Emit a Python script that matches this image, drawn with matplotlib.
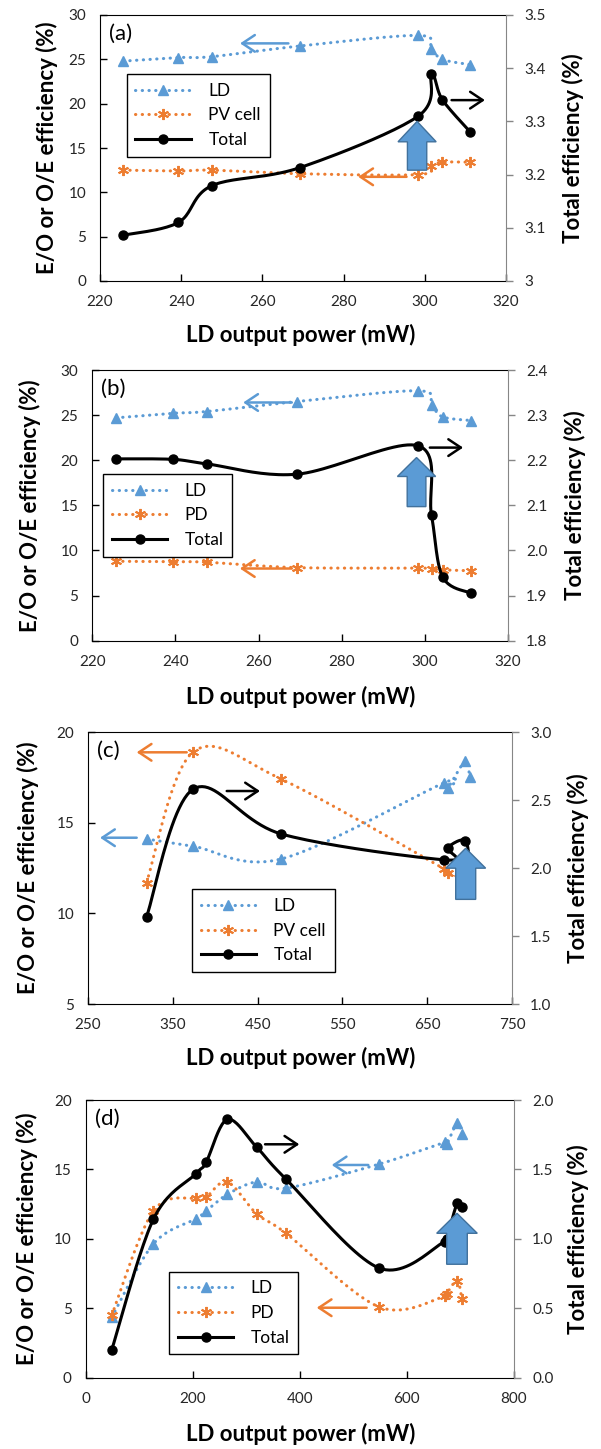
import numpy as np
import matplotlib
matplotlib.use("Agg")
import matplotlib.pyplot as plt
from matplotlib.patches import FancyArrow
from matplotlib.lines import Line2D
from matplotlib.ticker import FuncFormatter

plt.rcParams['font.family'] = ['Lato', 'DejaVu Sans']

# ---- data ----
# (a) and (b): same LD operating points
power_ab = [225.7, 239.3, 247.5, 269.2, 298.4, 301.6, 304.3, 311.2]
ld_a = [24.8, 25.2, 25.3, 26.5, 27.7, 26.2, 25.0, 24.4]
pv_a = [12.5, 12.4, 12.5, 12.1, 12.0, 13.0, 13.4, 13.4]
total_a = [3.086, 3.110, 3.179, 3.213, 3.310, 3.389, 3.341, 3.280]

ld_b = [24.7, 25.2, 25.4, 26.5, 27.7, 26.1, 24.8, 24.4]
pd_b = [8.8, 8.75, 8.7, 8.1, 8.05, 7.95, 7.85, 7.75]
total_b = [2.203, 2.202, 2.192, 2.169, 2.232, 2.078, 1.941, 1.905]

power_c = [319, 374, 478, 670, 674, 695, 700]
ld_c = [14.1, 13.7, 13.0, 17.2, 16.9, 18.4, 17.5]
pv_c = [11.7, 18.9, 17.4, 12.45, 12.2, 12.0, 12.3]
total_c = [1.64, 2.58, 2.25, 2.06, 2.15, 2.20, 2.0]

power_d = [48.6, 126.3, 206.0, 224.7, 264.5, 319.4, 374.1, 547.8, 670.5, 674.2, 694.1, 702.3]
ld_d = [4.35, 9.63, 11.45, 12.0, 13.2, 14.1, 13.65, 15.38, 16.95, 16.8, 18.35, 17.55]
pd_d = [4.5, 12.0, 12.95, 13.0, 14.1, 11.8, 10.4, 5.1, 5.85, 6.05, 7.0, 5.7]
total_d = [0.20, 1.14, 1.47, 1.55, 1.86, 1.66, 1.43, 0.79, 0.98, 1.0, 1.26, 1.23]

BLUE = '#5B9BD5'
ORANGE = '#ED7D31'
GREY = '#868686'
W, H = 601, 1449

fig = plt.figure(figsize=(W / 100, H / 100), dpi=100)


def smooth(x, y, n=24):
    # excel style smoothed line (catmull-rom bezier)
    p = np.column_stack([x, y]).astype(float)
    q = np.vstack([p[0], p, p[-1]])
    t = np.linspace(0, 1, n)[:, None]
    out = [p[:1]]
    for i in range(len(p) - 1):
        p0, p1, p2, p3 = q[i], q[i + 1], q[i + 2], q[i + 3]
        c1 = p1 + (p2 - p0) / 6
        c2 = p2 - (p3 - p1) / 6
        seg = (1 - t)**3 * p1 + 3 * (1 - t)**2 * t * c1 + 3 * (1 - t) * t**2 * c2 + t**3 * p2
        out.append(seg[1:])
    s = np.vstack(out)
    return s[:, 0], s[:, 1]


dot = dict(ls=(0, (0.1, 2.1)), lw=2.2, dash_capstyle='round')
ld_mk = dict(marker='^', ms=7.5, color=BLUE, ls='none')
pv_mk = dict(marker=(6, 2, 0), ms=8, mew=1.4, color=ORANGE, ls='none')
tot_mk = dict(marker='o', ms=6.5, color='black', ls='none')


def panel(box, tag, xs, ld, mid, mid_name, tot, xlim, xstep, ylim, ystep,
          y2lim, y2step, y2fmt, leg_xy, ylab_x, yrlab_x, xlab_y):
    l, r, t, b = box
    ax = fig.add_axes([l / W, 1 - b / H, (r - l) / W, (b - t) / H])
    ax2 = ax.twinx()

    sx, sy = smooth(xs, ld)
    ax.plot(sx, sy, color=BLUE, **dot)
    ax.plot(xs, ld, **ld_mk)
    sx, sy = smooth(xs, mid)
    ax.plot(sx, sy, color=ORANGE, **dot)
    ax.plot(xs, mid, **pv_mk)
    sx, sy = smooth(xs, tot)
    ax2.plot(sx, sy, color='black', lw=2.2)
    ax2.plot(xs, tot, **tot_mk)

    ax.set_xlim(xlim)
    ax.set_ylim(ylim)
    ax2.set_ylim(y2lim)
    ax.set_xticks(np.arange(xlim[0], xlim[1] + 1e-9, xstep))
    ax.set_yticks(np.arange(ylim[0], ylim[1] + 1e-9, ystep))
    ax2.set_yticks(np.arange(y2lim[0], y2lim[1] + 1e-9, y2step))
    ax2.yaxis.set_major_formatter(FuncFormatter(lambda v, p: y2fmt % v))

    ax.tick_params(direction='in', length=5, width=1, labelsize=11, pad=10,
                   labelcolor='#262626')
    ax2.tick_params(direction='out', length=5, width=1, color=GREY,
                    labelsize=11, pad=8, labelcolor='#262626')
    for s in ['left', 'bottom', 'top']:
        ax.spines[s].set_color('black')
        ax2.spines[s].set_visible(False)
    ax.spines['right'].set_visible(False)
    ax2.spines['right'].set_color(GREY)

    ax.set_xlabel('LD output power (mW)', fontsize=16, fontweight='bold', va='center')
    ax.xaxis.set_label_coords(0.5, 1 - xlab_y / H, transform=fig.transFigure)
    ym = 1 - (t + b) / 2 / H
    ax.set_ylabel('E/O or O/E efficiency (%)', fontsize=16, fontweight='bold', va='center')
    ax.yaxis.set_label_coords(ylab_x / W, ym, transform=fig.transFigure)
    ax2.set_ylabel('Total efficiency (%)', fontsize=16, fontweight='bold', va='center')
    ax2.yaxis.set_label_coords(yrlab_x / W, ym, transform=fig.transFigure)

    ax.text(0.022, 0.968, tag, transform=ax.transAxes, fontsize=16, va='top', ha='left')

    handles = [Line2D([], [], color=BLUE, marker='^', ms=7.5, **dot),
               Line2D([], [], color=ORANGE, marker=(6, 2, 0), ms=8, mew=1.4, **dot),
               Line2D([], [], color='black', lw=2.2, marker='o', ms=6.5)]
    leg = ax2.legend(handles, ['LD', mid_name, 'Total'], loc='upper left',
                     bbox_to_anchor=leg_xy, fontsize=12.5, frameon=True,
                     fancybox=False, edgecolor='black', framealpha=1,
                     handlelength=3.2, labelspacing=0.5, borderpad=0.5,
                     handletextpad=1.0, borderaxespad=0)
    leg.get_frame().set_linewidth(1)
    leg.set_zorder(5)
    return ax, ax2


def thin_arrow(a, tail, tip, color):
    a.annotate('', xy=tip, xytext=tail,
               arrowprops=dict(arrowstyle='->,head_length=0.6,head_width=0.4',
                               color=color, lw=1.8, shrinkA=0, shrinkB=0,
                               mutation_scale=15))


def fat_arrow(ax, ax2, x, y0, y1, head_len, shaft_w, head_w):
    ar = FancyArrow(x, y0, 0, y1 - y0, width=shaft_w, head_width=head_w,
                    head_length=head_len, length_includes_head=True,
                    fc=BLUE, ec='#41719C', lw=1, transform=ax.transData, zorder=4)
    ax2.add_patch(ar)


# (a)
ax, ax2 = panel((100, 506, 15, 281), '(a)', power_ab, ld_a, pv_a, 'PV cell', total_a,
                (220, 320), 20, (0, 30), 5, (3, 3.5), 0.1, '%g',
                (0.066, 0.778), 47, 573, 335)
thin_arrow(ax, (266.4, 26.8), (254.5, 26.8), BLUE)
thin_arrow(ax, (295.5, 11.75), (283.6, 11.75), ORANGE)
thin_arrow(ax2, (306.6, 3.34), (314.8, 3.34), 'black')
fat_arrow(ax, ax2, 298.1, 12.5, 18.0, 2.3, 4.76, 9.4)
ax2.set_ylim(3, 3.5)

# (b)
ax, ax2 = panel((92.3, 508, 370, 640.7), '(b)', power_ab, ld_b, pd_b, 'PD', total_b,
                (220, 320), 20, (0, 30), 5, (1.8, 2.4), 0.1, '%.1f',
                (0.026, 0.616), 30, 575, 697)
thin_arrow(ax, (268.0, 26.4), (256.3, 26.4), BLUE)
thin_arrow(ax, (268.0, 8.0), (255.5, 8.0), ORANGE)
thin_arrow(ax2, (301.2, 2.228), (309.2, 2.228), 'black')
fat_arrow(ax, ax2, 298.0, 14.86, 20.3, 2.1, 4.5, 9.2)
ax2.set_ylim(1.8, 2.4)

# (c)
ax, ax2 = panel((88, 512, 732, 1004), '(c)', power_c, ld_c, pv_c, 'PV cell', total_c,
                (250, 750), 100, (5, 20), 5, (1.0, 3.0), 0.5, '%.1f',
                (0.245, 0.422), 28, 578, 1058)
thin_arrow(ax, (366.4, 18.88), (307.4, 18.88), ORANGE)
thin_arrow(ax, (307.4, 14.17), (264.2, 14.17), BLUE)
thin_arrow(ax2, (413.6, 2.566), (452.8, 2.566), 'black')
fat_arrow(ax, ax2, 695.4, 10.77, 13.59, 1.1, 23.6, 47)
ax2.set_ylim(1.0, 3.0)

# (d)
ax, ax2 = panel((85.7, 514, 1100, 1377.7), '(d)', power_d, ld_d, pd_d, 'PD', total_d,
                (0, 800), 200, (0, 20), 5, (0.0, 2.0), 0.5, '%.1f',
                (0.195, 0.382), 27, 578, 1434)
thin_arrow(ax2, (335, 1.681), (399, 1.681), 'black')
thin_arrow(ax, (527.8, 15.32), (459.5, 15.32), BLUE)
thin_arrow(ax, (524.8, 5.04), (431.5, 5.04), ORANGE)
fat_arrow(ax, ax2, 693.5, 8.17, 11.84, 1.44, 38.5, 75.8)
ax2.set_ylim(0, 2.0)

fig.savefig('out.png', dpi=100)
